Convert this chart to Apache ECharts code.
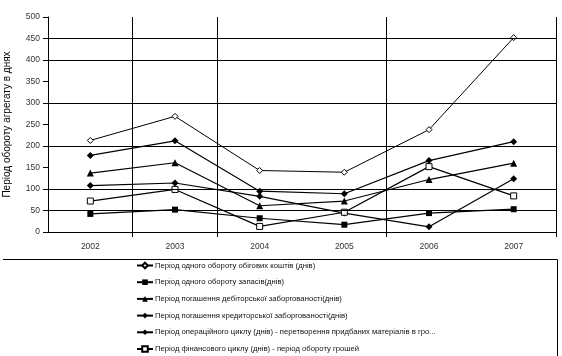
<!DOCTYPE html>
<html>
<head>
<meta charset="utf-8">
<script src="https://cdn.jsdelivr.net/npm/echarts@6/dist/echarts.min.js"></script>
<style>
html,body{margin:0;padding:0;background:#fff;}
#chart{width:562px;height:356px;}
</style>
</head>
<body>
<div id="chart"></div>
<script>
const categories = ['2002', '2003', '2004', '2005', '2006', '2007'];
const seriesNames = [
  'Період одного обороту обігових коштів (днів)',
  'Період одного обороту запасів(днів)',
  'Період погашення дебіторської заборгованості(днів)',
  'Період погашення кредиторської заборгованості(днів)',
  'Період операційного циклу (днів) - перетворення придбаних матеріалів в гроші',
  'Період фінансового циклу (днів) - період обороту грошей'
];
const workingCapital = [213, 269, 143, 139, 238, 452];
const inventory = [42, 52, 32, 17, 44, 53];
const receivables = [137, 161, 61, 72, 122, 160];
const payables = [108, 114, 83, 44, 12, 124];
const operatingCycle = [178, 212, 95, 89, 166, 210];
const financialCycle = [72, 99, 13, 46, 152, 84];
const gridValues = [50, 100, 200, 300, 400, 450];
const yAxisName = 'Період обороту агрегату в днях';

const chart = echarts.init(document.getElementById('chart'), null, {renderer: 'canvas'});
const FONT = 'Liberation Sans, Arial, sans-serif';

function mkSeries(name, data, symbol, size, hollow, extra) {
  return Object.assign({
    name: name,
    type: 'line',
    data: data,
    symbol: symbol,
    symbolSize: size,
    showAllSymbol: true,
    lineStyle: {color: '#000', width: 1.2},
    itemStyle: hollow ? {color: '#fff', borderColor: '#000', borderWidth: 1} : {color: '#000', borderColor: '#000', borderWidth: 0},
    emphasis: {disabled: true}
  }, extra || {});
}

const vertLines = function (idx) { return idx === 1 || idx === 2 || idx === 4; };

chart.setOption({
  animation: false,
  backgroundColor: '#fff',
  grid: {left: 48, right: 6, top: 17, bottom: 124, containLabel: false, outerBoundsMode: 'none'},
  xAxis: {
    type: 'category',
    data: categories,
    boundaryGap: true,
    axisLine: {lineStyle: {color: '#000', width: 1}},
    axisTick: {show: true, length: 5, interval: vertLines, lineStyle: {color: '#000'}},
    splitLine: {show: true, interval: vertLines, lineStyle: {color: '#000', width: 1}},
    axisLabel: {color: '#333', fontFamily: FONT, fontSize: 8.5, margin: 10, interval: 0}
  },
  yAxis: {
    type: 'value',
    min: 0, max: 500, interval: 50,
    name: yAxisName,
    nameLocation: 'middle',
    nameGap: 36,
    nameTextStyle: {color: '#000', fontFamily: FONT, fontSize: 10},
    axisLine: {show: true, lineStyle: {color: '#000', width: 1}},
    axisTick: {show: true, length: 5, lineStyle: {color: '#000'}},
    splitLine: {show: false},
    axisLabel: {color: '#333', fontFamily: FONT, fontSize: 8.5, margin: 8}
  },
  legend: {
    orient: 'vertical',
    left: 136,
    top: 261.5,
    itemWidth: 16,
    itemHeight: 7,
    itemGap: 8.7,
    padding: 0,
    selectedMode: false,
    formatter: function (name) {
      const cut = name.indexOf('гроші');
      return name.length > 70 && cut > 0 ? name.slice(0, cut + 3) + '...' : name;
    },
    textStyle: {color: '#111', fontFamily: FONT, fontSize: 7.7, lineHeight: 7, padding: [0, 0, 0, -3]}
  },
  graphic: [{
    type: 'polyline',
    shape: {points: [[3, 259.5], [557.5, 259.5], [557.5, 356]]},
    style: {stroke: '#000', lineWidth: 1, fill: null},
    silent: true
  }],
  series: [
    mkSeries(seriesNames[0], workingCapital, 'diamond', 6, true, {
      lineStyle: {color: '#000', width: 1},
      markLine: {
        silent: true,
        symbol: 'none',
        label: {show: false},
        lineStyle: {color: '#000', type: 'solid', width: 1},
        data: gridValues.map(v => ({yAxis: v}))
      }
    }),
    mkSeries(seriesNames[1], inventory, 'rect', 6, false),
    mkSeries(seriesNames[2], receivables, 'triangle', 7, false),
    mkSeries(seriesNames[3], payables, 'diamond', 7, false),
    mkSeries(seriesNames[4], operatingCycle, 'diamond', 7, false),
    mkSeries(seriesNames[5], financialCycle, 'rect', 6, true)
  ]
});
</script>
</body>
</html>
